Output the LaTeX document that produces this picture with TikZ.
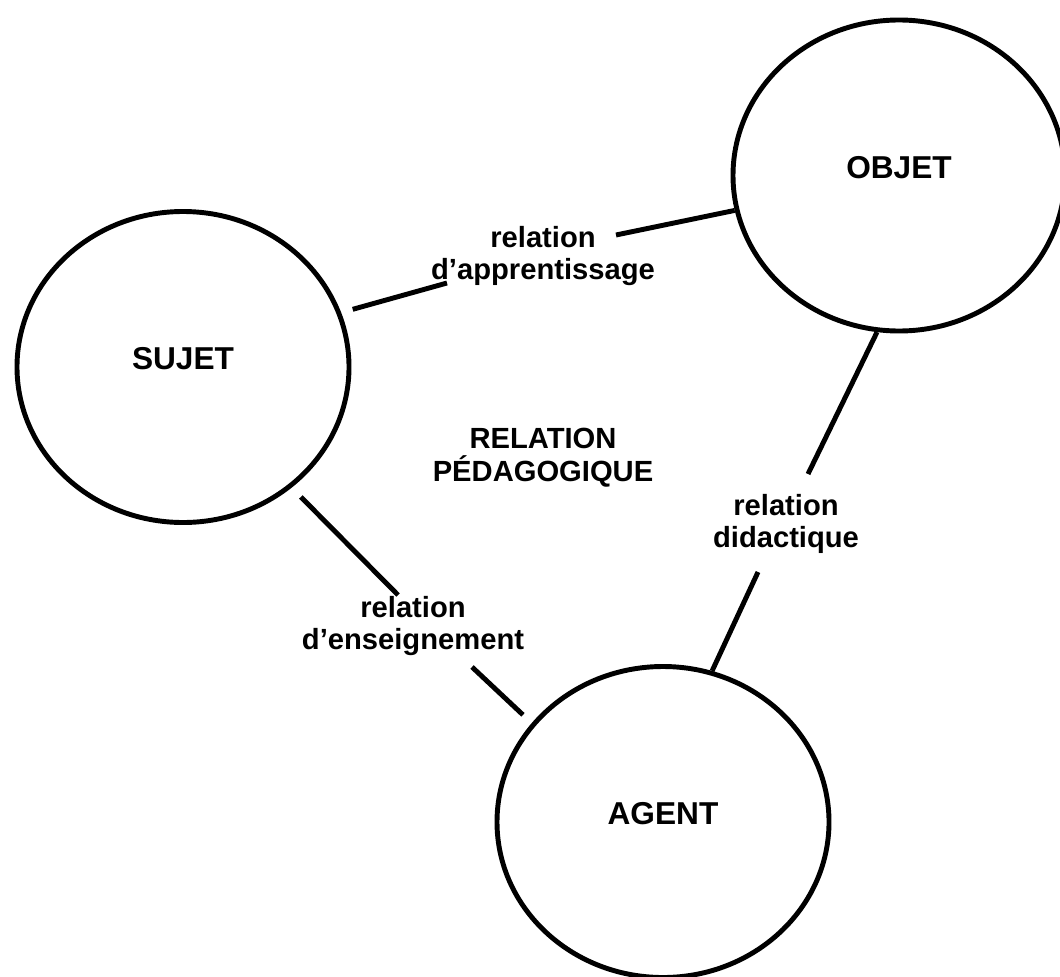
\documentclass[tikz,border=0pt]{standalone}
\usepackage{fontspec}
\setmainfont{Liberation Sans}
\usetikzlibrary{shapes.geometric}
\begin{document}
\begin{tikzpicture}[line width=1.4pt,
                bulle/.style={draw,ellipse,inner sep=0pt,minimum width=3.32cm,minimum height=3.11cm,text depth=4.6pt,font=\fontsize{9}{10}\selectfont\bfseries},
                rel/.style={anchor=north,inner sep=0pt,align=center,font=\fontsize{8.3}{9.2}\selectfont\bfseries}]
                \useasboundingbox (0,0) rectangle (10.6,-9.76);
                \clip (0,0) rectangle (10.6,-9.76);
                \node[bulle] (objet) at (8.99,-1.755) {OBJET};
                \node[bulle] (sujet) at (1.83,-3.67) {SUJET};
                \node[bulle] (agent) at (6.63,-8.22) {AGENT};
                \node[rel] (appr) at (5.43,-2.24) {relation\\d’apprentissage};
                \node[rel] (peda) at (5.43,-4.26) {RELATION\\PÉDAGOGIQUE};
                \node[rel] (didac) at (7.86,-4.92) {relation\\didactique};
                \node[rel] (ens) at (4.13,-5.94) {relation\\d’enseignement};
                \coordinate (a1) at (4.47,-2.83);
                \coordinate (a2) at (6.16,-2.35);
                \coordinate (d1) at (8.08,-4.74);
                \coordinate (d2) at (7.58,-5.72);
                \coordinate (e1) at (3.98,-5.95);
                \coordinate (e2) at (4.72,-6.67);
                \draw[shorten <=0.12cm] (sujet.19) -- (a1);
                \draw (a2) -- (objet.192.5);
                \draw (objet.262) -- (d1);
                \draw (d2) -- (agent.72);
                \draw[shorten <=0.13cm] (sujet.312.5) -- (e1);
                \draw[shorten >=0.12cm] (e2) -- (agent.143.2);
\end{tikzpicture}
\end{document}
